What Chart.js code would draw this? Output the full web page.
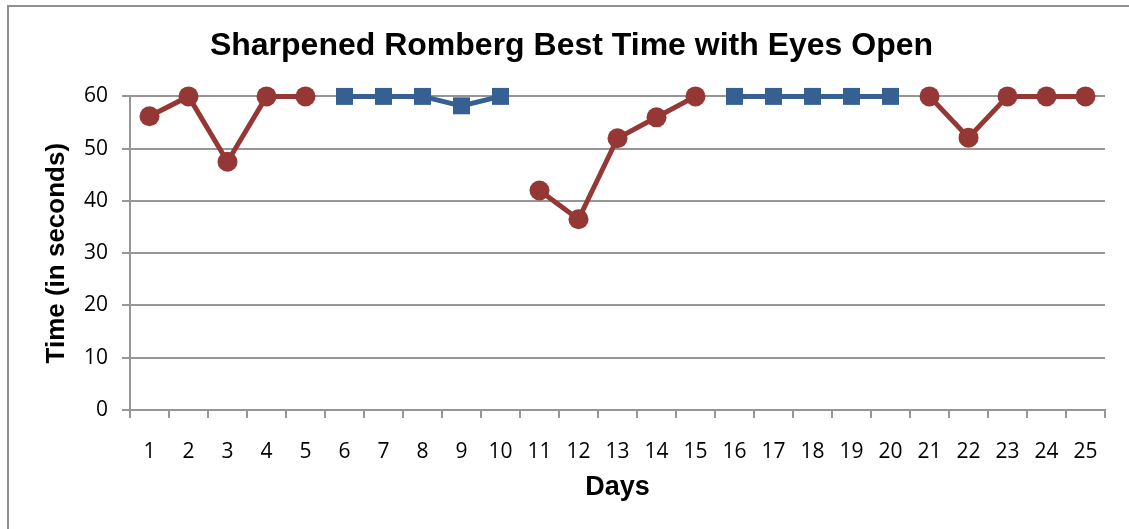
<!DOCTYPE html>
<html>
<head>
<meta charset="utf-8">
<script src="https://cdn.jsdelivr.net/npm/chart.js@4"></script>
<style>
  html, body { margin: 0; padding: 0; background: #fff; }
  #wrap { position: relative; width: 1129px; height: 529px; overflow: hidden; }
  #frame { position: absolute; left: 7px; top: 5px; width: 1200px; height: 600px;
           border-left: 2px solid #8f8f8f; border-top: 2px solid #8f8f8f; }
  canvas { position: absolute; left: 0; top: 0; }
</style>
</head>
<body>
<div id="wrap">
  <div id="frame"></div>
  <canvas id="chart" width="1129" height="529"></canvas>
</div>
<script>
// days on the x axis
const days = ['1','2','3','4','5','6','7','8','9','10','11','12','13','14','15',
              '16','17','18','19','20','21','22','23','24','25'];

// red circles: phases without blue squares
const redTimes = [56.2, 60, 47.5, 60, 60, null, null, null, null, null,
                  42, 36.5, 52, 56, 60, null, null, null, null, null,
                  60, 52.1, 60, 60, 60];

// blue squares
const blueTimes = [null, null, null, null, null, 60, 60, 60, 58.2, 60,
                   null, null, null, null, null, 60, 60, 60, 60, 60,
                   null, null, null, null, null];

const yTicks = [0, 10, 20, 30, 40, 50, 60];

const axisGray = '#969696';
const tickFont = { family: 'Open Sans', size: 21 };
const boldFont = size => ({ family: 'Liberation Sans', size: size, weight: 'bold' });

new Chart(document.getElementById('chart'), {
    type: 'line',
    data: {
        labels: days,
        datasets: [{
            label: 'A',
            data: redTimes,
            borderColor: '#953735',
            backgroundColor: '#953735',
            borderWidth: 5,
            pointStyle: 'circle',
            pointRadius: 10,
            pointBorderWidth: 0,
            spanGaps: false,
            clip: false,
            tension: 0
        }, {
            label: 'B',
            data: blueTimes,
            borderColor: '#376092',
            backgroundColor: '#376092',
            borderWidth: 5,
            pointStyle: 'rect',
            pointRadius: 12,
            pointBorderWidth: 0,
            spanGaps: false,
            clip: false,
            tension: 0
        }]
    },
    options: {
        responsive: false,
        animation: false,
        layout: { padding: { left: 38, right: 24, top: 0, bottom: 0 } },
        plugins: {
            legend: { display: false },
            tooltip: { enabled: false },
            title: {
                display: true,
                text: 'Sharpened Romberg Best Time with Eyes Open',
                color: '#000',
                font: boldFont(32),
                padding: { top: 27, bottom: 31 }
            }
        },
        scales: {
            x: {
                offset: true,
                grid: {
                    offset: true,
                    drawOnChartArea: false,
                    drawTicks: true,
                    tickLength: 8,
                    color: axisGray,
                    lineWidth: 2
                },
                border: { color: axisGray, width: 2 },
                ticks: { color: '#000', font: tickFont, padding: 21, maxRotation: 0, autoSkip: false },
                title: {
                    display: true,
                    text: 'Days',
                    color: '#000',
                    font: boldFont(27),
                    padding: { top: 0, bottom: 25 }
                },
                afterFit: s => { s.height = 119; }
            },
            y: {
                min: 0,
                max: 60,
                afterBuildTicks: s => { s.ticks = yTicks.map(v => ({ value: v })); },
                grid: {
                    color: axisGray,
                    lineWidth: 2,
                    tickLength: 8
                },
                border: { color: axisGray, width: 2 },
                ticks: { color: '#000', font: tickFont, padding: 14 },
                title: {
                    display: true,
                    text: 'Time (in seconds)',
                    color: '#000',
                    font: boldFont(26),
                    padding: { top: 3, bottom: 0 }
                },
                afterFit: s => { s.width = 92; }
            }
        }
    }
});
</script>
</body>
</html>
